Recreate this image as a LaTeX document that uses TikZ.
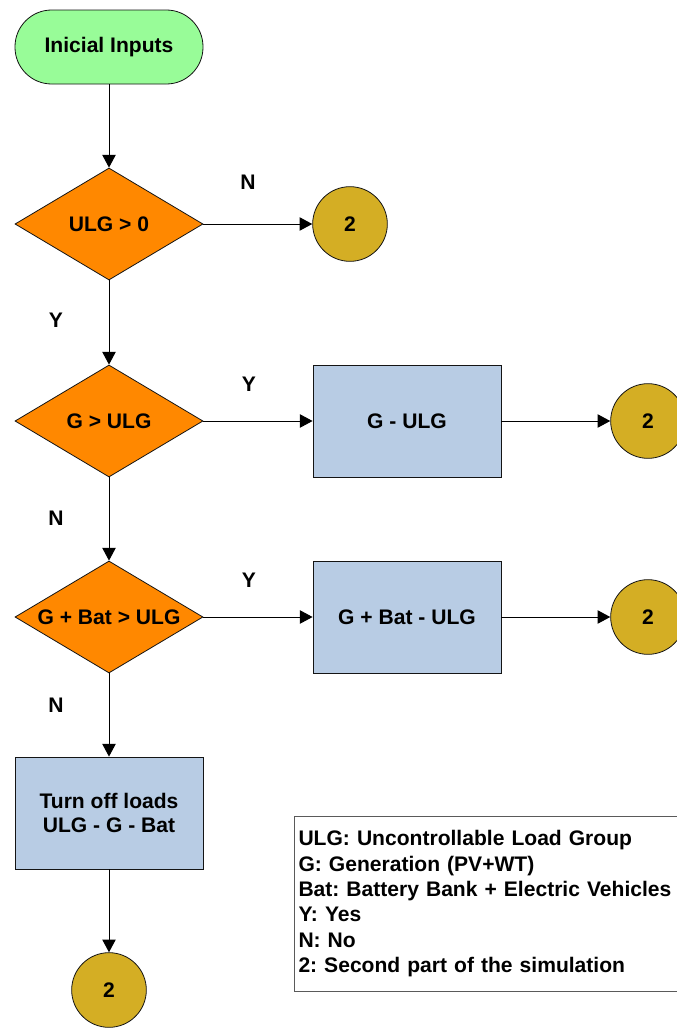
\documentclass[tikz,border=0pt]{standalone}
\usepackage{fontspec}
\setmainfont{Liberation Sans}
\usepackage{tikz}
\usetikzlibrary{arrows.meta,positioning,shapes.geometric}
\frenchspacing
\definecolor{fcedge}{RGB}{20,20,20}
\definecolor{fcstart}{RGB}{152,252,152}
\definecolor{fcdec}{RGB}{255,136,0}
\definecolor{fcproc}{RGB}{184,204,228}
\definecolor{fcconn}{RGB}{212,174,36}
\definecolor{fckey}{RGB}{90,90,90}
\tikzset{
  fcbase/.style={
    draw=fcedge, line width=0.6pt, align=center, inner sep=0pt,
    font=\fontsize{15.8}{18.5}\selectfont\bfseries
  },
  term/.style={fcbase, fill=fcstart, rounded corners=27.5pt,
    minimum width=141pt, minimum height=55.5pt},
  dec/.style={fcbase, diamond, fill=fcdec,
    minimum width=141pt, minimum height=84pt},
  proc/.style={fcbase, fill=fcproc, minimum width=141pt, minimum height=84pt},
  conn/.style={fcbase, circle, fill=fcconn, minimum size=56pt},
  arr/.style={-{Triangle[length=9.5pt,width=10pt]}, draw=black, line width=0.75pt},
  anno/.style={font=\fontsize{15.8}{18.5}\selectfont\bfseries},
  key/.style={draw=fckey, line width=0.75pt, align=left, inner xsep=3pt,
    font=\fontsize{15.8}{19}\selectfont\bfseries, text width=290pt,
    minimum height=131pt}
}
\begin{document}
\begin{tikzpicture}[x=0.75pt,y=-0.75pt]
  \useasboundingbox (0,0) rectangle (676,1028);
  \node[term] (start) at (109,47) {Inicial Inputs};
  \node[dec, label={[anno]center:ULG > 0}] (d1) at (109,224) {};
  \node[conn] (c1) at (350,224) {2};
  \node[dec, label={[anno]center:G > ULG}] (d2) at (109,421) {};
  \node[proc] (b1) at (407,421) {G - ULG};
  \node[conn] (c2) at (648,421) {2};
  \node[dec, label={[anno]center:G + Bat > ULG}] (d3) at (109,617) {};
  \node[proc] (b2) at (407,617) {G + Bat - ULG};
  \node[conn] (c3) at (648,617) {2};
  \node[proc] (b3) at (109,813) {Turn off loads\\ULG - G - Bat};
  \node[conn] (c4) at (109,990) {2};
  % flow
  \draw[arr] (start) -- (d1);
  \draw[arr] (d1) -- (c1);
  \draw[arr] (d1) -- (d2);
  \draw[arr] (d2) -- (b1);
  \draw[arr] (b1) -- (c2);
  \draw[arr] (d2) -- (d3);
  \draw[arr] (d3) -- (b2);
  \draw[arr] (b2) -- (c3);
  \draw[arr] (d3) -- (b3);
  \draw[arr] (b3) -- (c4);
  % branch letters
  \node[anno] (n1) at (248,182) {N};
  \node[anno] (y1) at (56,320) {Y};
  \node[anno] (y2) at (249,384) {Y};
  \node[anno] (n2) at (56,518) {N};
  \node[anno] (y3) at (249,580) {Y};
  \node[anno] (n3) at (56,705) {N};
  % legend
  \node[key, anchor=north west] (legend) at (294,816)
    {ULG: Uncontrollable Load Group\\
     G: Generation (PV+WT)\\
     Bat: Battery Bank + Electric Vehicles\\
     Y: Yes\\
     N: No\\
     2: Second part of the simulation};
\end{tikzpicture}
\end{document}
